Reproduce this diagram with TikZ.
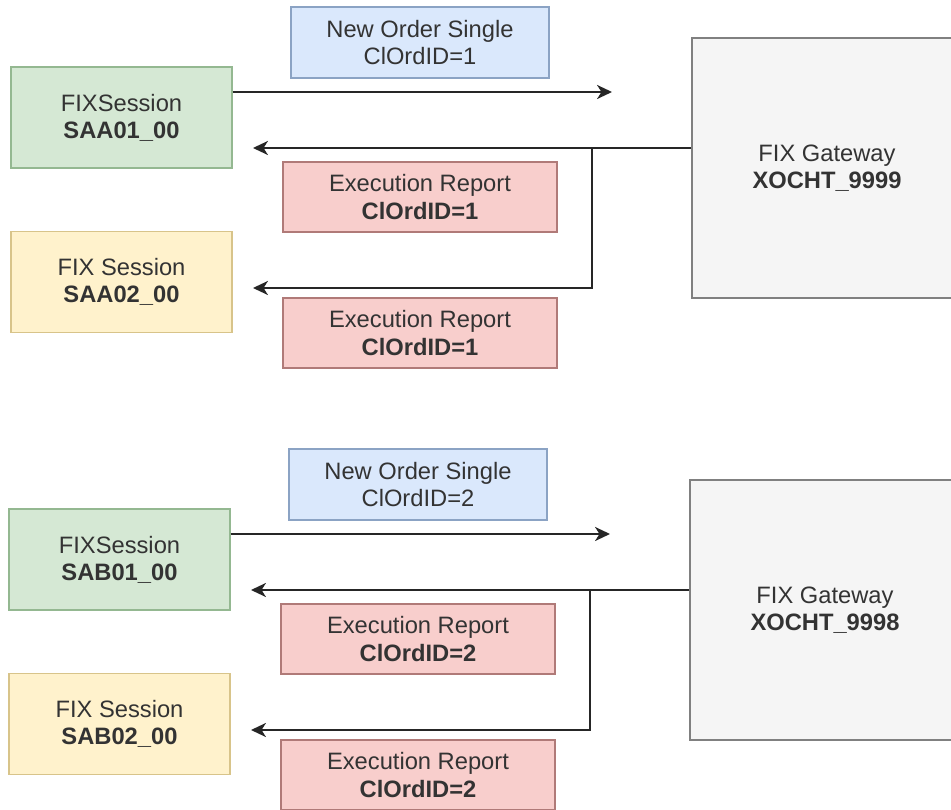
\documentclass[tikz,border=0pt]{standalone}
\usepackage{fontspec}
\setmainfont{Liberation Sans}
\usetikzlibrary{arrows.meta}

\newlength{\du}
\setlength{\du}{0.02cm}

\definecolor{greenfill}{HTML}{D5E8D4}
\definecolor{greenline}{HTML}{94B891}
\definecolor{yellowfill}{HTML}{FFF2CC}
\definecolor{yellowline}{HTML}{D8C48A}
\definecolor{bluefill}{HTML}{DAE8FC}
\definecolor{blueline}{HTML}{8BA3C4}
\definecolor{redfill}{HTML}{F8CECC}
\definecolor{redline}{HTML}{B07A78}
\definecolor{grayfill}{HTML}{F5F5F5}
\definecolor{grayline}{HTML}{808080}
\definecolor{textcolor}{HTML}{333333}

\begin{document}
\begin{tikzpicture}[
  box/.style={draw, line width=0.85pt, inner sep=0pt, align=center, text=textcolor,
    font=\fontsize{13.5}{15.4}\selectfont},
  session/.style={box, fill=greenfill, draw=greenline, minimum width=221\du, minimum height=101\du},
  spare/.style={box, fill=yellowfill, draw=yellowline, minimum width=221\du, minimum height=101\du},
  neworder/.style={box, fill=bluefill, draw=blueline, minimum width=258\du, minimum height=71\du},
  execreport/.style={box, fill=redfill, draw=redline, minimum width=274\du, minimum height=70\du},
  gateway/.style={box, fill=grayfill, draw=grayline, minimum width=270\du, minimum height=260\du},
  msg/.style={draw=black!85, line width=1.1pt, -{Stealth[length=8.5pt,width=8pt,inset=2.5pt]}}
]
\pgftransformyscale{-1.000000}
\clip (0\du,0\du) rectangle (951\du,810\du);

% first gateway
\node[neworder] (nos1) at (420\du,42.5\du) {New Order Single\\ClOrdID=1};
\node[session] (saa01) at (121.5\du,117.5\du) {FIXSession\\\textbf{SAA01\_00}};
\node[spare] (saa02) at (121.5\du,282\du) {FIX Session\\\textbf{SAA02\_00}};
\node[execreport] (er1) at (420\du,197\du) {Execution Report\\\textbf{ClOrdID=1}};
\node[execreport] (er2) at (420\du,333\du) {Execution Report\\\textbf{ClOrdID=1}};
\node[gateway] (gw1) at (827\du,168\du) {FIX Gateway\\\textbf{XOCHT\_9999}};

\coordinate (nos1end) at (612\du,92\du);
\coordinate (er1tip) at (253\du,148\du);
\coordinate (er1fork) at (592\du,148\du);
\coordinate (er2tip) at (253\du,288\du);
\draw[msg] (saa01.east |- nos1end) -- (nos1end);
\draw[msg] (gw1.west |- er1tip) -- (er1tip);
\draw[msg] (er1fork) |- (er2tip);

% second gateway
\node[neworder] (nos2) at (418\du,484.5\du) {New Order Single\\ClOrdID=2};
\node[session] (sab01) at (119.5\du,559.5\du) {FIXSession\\\textbf{SAB01\_00}};
\node[spare] (sab02) at (119.5\du,724\du) {FIX Session\\\textbf{SAB02\_00}};
\node[execreport] (er3) at (418\du,639\du) {Execution Report\\\textbf{ClOrdID=2}};
\node[execreport] (er4) at (418\du,775\du) {Execution Report\\\textbf{ClOrdID=2}};
\node[gateway] (gw2) at (825\du,610\du) {FIX Gateway\\\textbf{XOCHT\_9998}};

\coordinate (nos2end) at (610\du,534\du);
\coordinate (er3tip) at (251\du,590\du);
\coordinate (er3fork) at (590\du,590\du);
\coordinate (er4tip) at (251\du,730\du);
\draw[msg] (sab01.east |- nos2end) -- (nos2end);
\draw[msg] (gw2.west |- er3tip) -- (er3tip);
\draw[msg] (er3fork) |- (er4tip);
\end{tikzpicture}
\end{document}
